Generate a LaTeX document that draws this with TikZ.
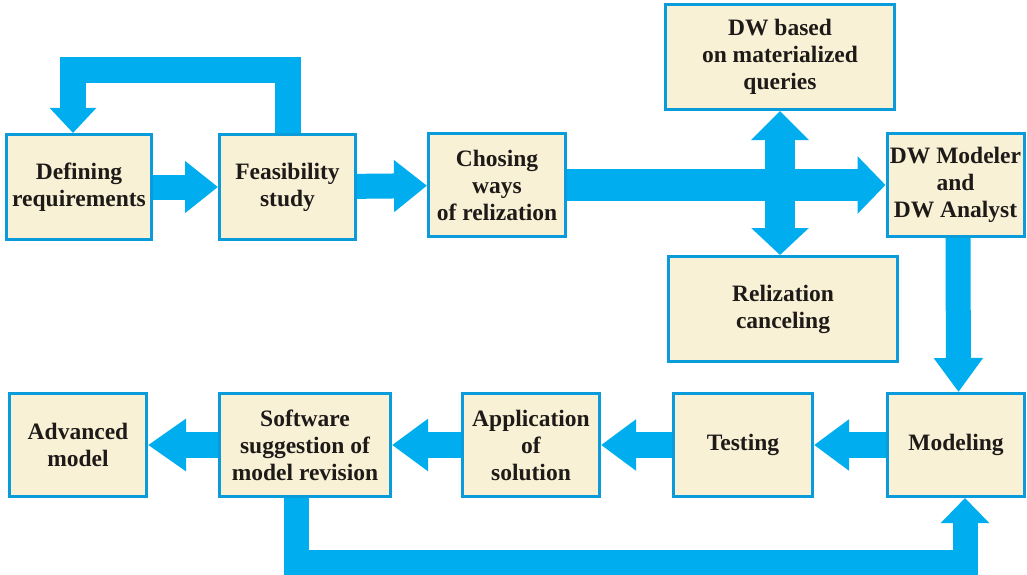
\documentclass[tikz,border=0pt]{standalone}
\usepackage{fontspec}
\setmainfont{Liberation Serif}
\usetikzlibrary{arrows.meta}
\definecolor{arrowc}{HTML}{00AEEF}
\definecolor{boxline}{HTML}{0A9BDA}
\definecolor{boxfill}{HTML}{F8F1D6}
\definecolor{txt}{HTML}{1E1A18}
\tikzset{
  box/.style={draw=boxline, fill=boxfill, line width=3pt, align=center, inner sep=2pt,
    text=txt, font=\fontsize{23.5}{27}\selectfont\bfseries},
  fat/.style={draw=arrowc, line width=25pt, line join=miter, line cap=butt,
    preaction={draw=arrowc, -, shorten >=20pt}},
  fatboth/.style={draw=arrowc, line width=25pt, line join=miter, line cap=butt,
    preaction={draw=arrowc, -, shorten >=20pt, shorten <=20pt}},
}
\begin{document}
\begin{tikzpicture}[x=1pt,y=-1pt]
\useasboundingbox (0,0) rectangle (1027,575);
% boxes
\node[box, minimum width=145pt, minimum height=105pt] (def)  at (79,187)    {Defining\\requirements};
\node[box, minimum width=136pt, minimum height=105pt] (feas) at (287.5,187) {Feasibility\\study};
\node[box, minimum width=137pt, minimum height=103pt] (chos) at (497,185)   {Chosing\\ways\\of relization};
\node[box, minimum width=229pt, minimum height=105pt] (dwb)  at (780,57)    {DW based\\on materialized\\queries};
\node[box, minimum width=137pt, minimum height=103pt] (dwm)  at (955.5,185) {DW Modeler\\and\\DW Analyst};
\node[box, minimum width=229pt, minimum height=105pt] (rel)  at (783,309)   {Relization\\canceling};
\node[box, minimum width=137pt, minimum height=103pt] (mod)  at (956,445)   {Modeling};
\node[box, minimum width=139pt, minimum height=103pt] (test) at (743,445)   {Testing};
\node[box, minimum width=137pt, minimum height=103pt] (app)  at (531,445)   {Application\\of\\solution};
\node[box, minimum width=171pt, minimum height=103pt] (soft) at (305,445)   {Software\\suggestion of\\model revision};
\node[box, minimum width=137pt, minimum height=103pt] (adv)  at (78,445)    {Advanced\\model};
% top row arrows
\draw[fat, -{Triangle[width=50pt,length=33pt]}] (def) -- (feas);
\draw[fat, -{Triangle[width=50pt,length=33pt]}] (feas) -- (chos);
\draw[fat, line width=32pt, -{Triangle[width=56pt,length=28pt]}] (chos) -- (dwm);
% loop from feasibility back to defining
\coordinate (tl) at (73,70);
\draw[fat, line width=26pt, -{Triangle[width=45pt,length=25pt]}] (feas.north) |- (tl) -- (tl |- def.north);
% double vertical arrow
\draw[fatboth, line width=30pt, {Triangle[width=56pt,length=29pt]}-{Triangle[width=56pt,length=27pt]}] (dwb.south) -- (dwb.south |- rel.north);
% DW modeler to modeling
\draw[fat, -{Triangle[width=47pt,length=34pt]}] ([xshift=2.5pt]dwm.south) -- ([xshift=2.5pt]mod.north);
% bottom row arrows
\draw[fat, line width=26pt, -{Triangle[width=49pt,length=35pt]}] (mod) -- (test);
\draw[fat, line width=26pt, -{Triangle[width=49pt,length=35pt]}] (test) -- (app);
\draw[fat, line width=26pt, -{Triangle[width=50pt,length=36pt]}] (app) -- (soft);
\draw[fat, line width=26pt, -{Triangle[width=50pt,length=38pt]}] (soft) -- (adv);
% bottom loop
\coordinate (bl) at (296,562.5);
\coordinate (br) at (965,562.5);
\draw[fat, -{Triangle[width=47pt,length=25pt]}] ([xshift=-9pt]soft.south) -- (bl) -- (br) -- (br |- mod.south);
\end{tikzpicture}
\end{document}
